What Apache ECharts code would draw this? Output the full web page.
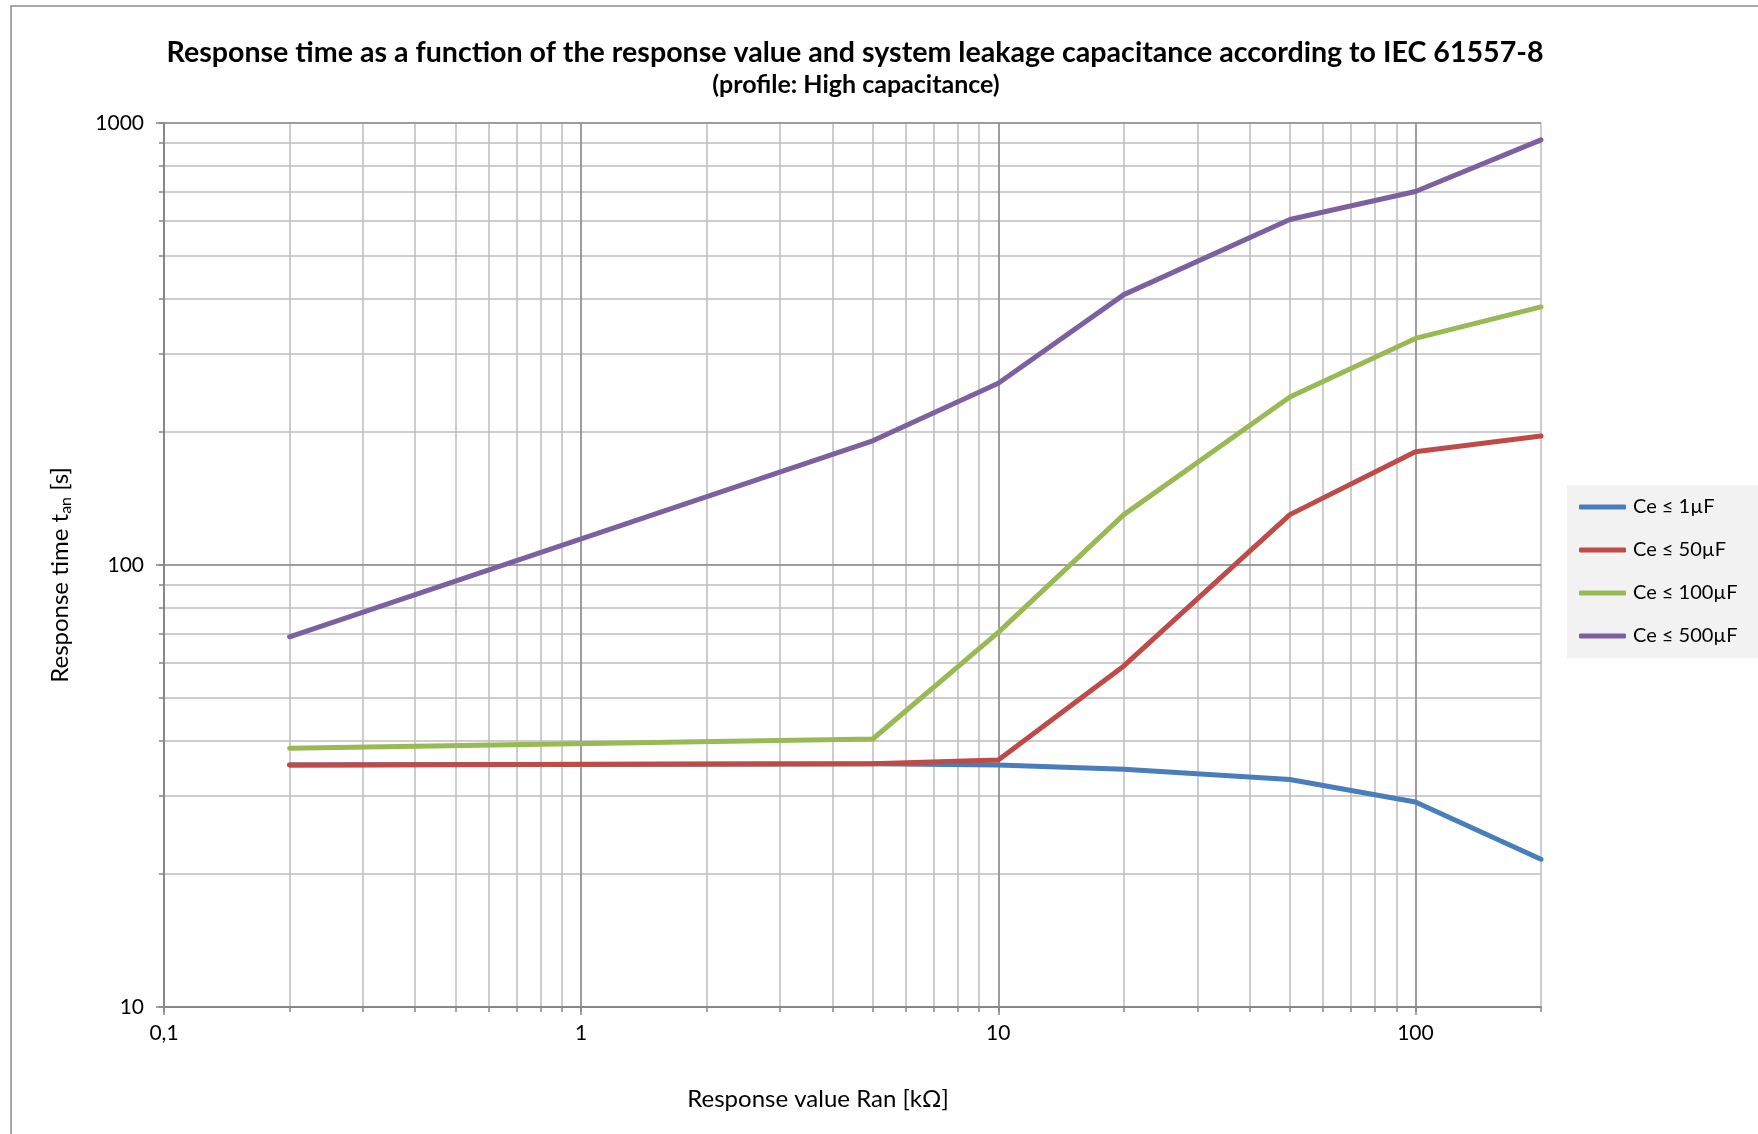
<!DOCTYPE html>
<html>
<head>
<meta charset="utf-8">
<script src="https://cdn.jsdelivr.net/npm/echarts@6/dist/echarts.min.js"></script>
<style>
html,body{margin:0;padding:0;background:#fff;}
#chart{width:1758px;height:1134px;}
</style>
</head>
<body>
<div id="chart"></div>
<script>
// ---- data ----
const xValues = [0.2, 5, 10, 20, 50, 100, 200];
const seriesNames = ['Ce ≤ 1µF', 'Ce ≤ 50µF', 'Ce ≤ 100µF', 'Ce ≤ 500µF'];
const ce1 = [35.3, 35.5, 35.3, 34.5, 32.7, 29.1, 21.6];
const ce50 = [35.3, 35.5, 36.2, 59.1, 130, 180.4, 195.8];
const ce100 = [38.5, 40.4, 70.4, 130, 240, 325.6, 383.6];
const ce500 = [68.8, 191, 257.7, 409, 605, 700, 916];
const xMinorTicks = [0.1,0.2,0.3,0.4,0.5,0.6,0.7,0.8,0.9,1,2,3,4,5,6,7,8,9,10,20,30,40,50,60,70,80,90,100,200];
const xMajorTicks = [0.1, 1, 10, 100];
const yMinorTicks = [10,20,30,40,50,60,70,80,90,100,200,300,400,500,600,700,800,900,1000];
const yMajorTicks = [10, 100, 1000];
const colors = ['#4A7EBB', '#BE4B48', '#98B954', '#7D60A0'];

const FONT = 'Lato, "Open Sans", sans-serif';
const chart = echarts.init(document.getElementById('chart'));

function pairs(vals){ return xValues.map((x,i)=>[x, vals[i]]); }
const allSeries = [ce1, ce50, ce100, ce500];

const minorLine = {show:true, lineStyle:{color:'#BDBDBD', width:1.5}};
const majorLine = {show:true, lineStyle:{color:'#8C8C8C', width:1.5}};

const option = {
  animation:false,
  backgroundColor:'#fff',
  graphic:[
    {type:'rect', shape:{x:11, y:6, width:1800, height:1200}, style:{fill:'none', stroke:'#8A8A8A', lineWidth:1.5}, silent:true, z:-10},
    {type:'text', x:855, y:53, style:{text:'Response time as a function of the response value and system leakage capacitance according to IEC 61557-8', font:'bold 28.6px '+FONT, fill:'#000', textAlign:'center', textVerticalAlign:'middle'}},
    {type:'text', x:856, y:85, style:{text:'(profile: High capacitance)', font:'bold 25px '+FONT, fill:'#000', textAlign:'center', textVerticalAlign:'middle'}},
    {type:'text', x:818, y:1099, style:{text:'Response value Ran [kΩ]', font:'24px '+FONT, fill:'#000', textAlign:'center', textVerticalAlign:'middle'}},
    {type:'text', x:60, y:575, rotation:Math.PI/2, style:{text:'Response time t{sub|an} [s]', font:'24px '+FONT, fill:'#000', textAlign:'center', textVerticalAlign:'middle',
      rich:{sub:{fontSize:16, fontFamily:FONT, verticalAlign:'bottom', padding:[12,0,0,0]}}}}
  ],
  legend:{
    orient:'vertical', left:1567, top:485,
    backgroundColor:'#F2F2F2', borderWidth:0,
    padding:[12,30,12,12],
    itemWidth:47, itemHeight:5, itemGap:23,
    icon:'roundRect',
    textStyle:{fontFamily:FONT, fontSize:20, color:'#000', padding:[0,0,0,2]},
    data:seriesNames
  },
  grid:{left:164, top:123, width:1377, height:884, containLabel:false},
  xAxis:[
    {type:'log', logBase:10, min:0.1, max:200, position:'bottom',
      axisLine:{show:true, lineStyle:{color:'#868686', width:1.5}},
      axisTick:{show:true, inside:false, length:5, customValues:xMinorTicks, lineStyle:{color:'#868686', width:1.5}},
      axisLabel:{show:false},
      splitLine:minorLine, z:1},
    {type:'log', logBase:10, min:0.1, max:200, position:'bottom',
      axisLine:{show:true, lineStyle:{color:'#868686', width:1.5}},
      axisTick:{show:true, length:8, customValues:xMajorTicks, lineStyle:{color:'#868686', width:1.5}},
      axisLabel:{show:true, customValues:xMajorTicks, margin:16, fontFamily:FONT, fontSize:21, color:'#000',
        formatter:v=>String(v).replace('.', ',')},
      splitLine:majorLine, z:2}
  ],
  yAxis:[
    {type:'log', logBase:10, min:10, max:1000,
      axisLine:{show:true, lineStyle:{color:'#868686', width:1.5}},
      axisTick:{show:true, length:5, customValues:yMinorTicks, lineStyle:{color:'#868686', width:1.5}},
      axisLabel:{show:false},
      splitLine:minorLine, z:1},
    {type:'log', logBase:10, min:10, max:1000, position:'left',
      axisLine:{show:true, lineStyle:{color:'#868686', width:1.5}},
      axisTick:{show:true, length:8, customValues:yMajorTicks, lineStyle:{color:'#868686', width:1.5}},
      axisLabel:{show:true, customValues:yMajorTicks, margin:20, fontFamily:FONT, fontSize:21, color:'#000',
        formatter:v=>String(Math.round(v))},
      splitLine:majorLine, z:2}
  ],
  series: allSeries.map((vals,i)=>({
    name:seriesNames[i], type:'line', xAxisIndex:0, yAxisIndex:0,
    data:pairs(vals), showSymbol:false, symbol:'none',
    lineStyle:{color:colors[i], width:5, cap:'round', join:'round'},
    itemStyle:{color:colors[i]},
    z:10+i
  }))
};
chart.setOption(option);
</script>
</body>
</html>
